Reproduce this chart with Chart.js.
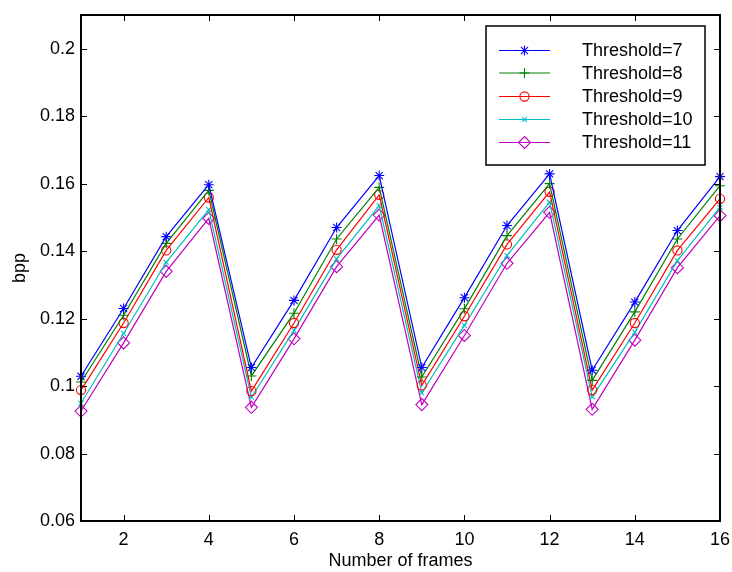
<!DOCTYPE html>
<html>
<head>
<meta charset="utf-8">
<script src="https://cdn.jsdelivr.net/npm/chart.js@4/dist/chart.umd.min.js"></script>
<style>
  html, body { margin: 0; padding: 0; background: #fff; }
</style>
</head>
<body>
<canvas id="bppChart" width="732" height="572"></canvas>
<script>
// frames on the x axis
const frames = [1, 2, 3, 4, 5, 6, 7, 8, 9, 10, 11, 12, 13, 14, 15, 16];

// bpp per frame, one array per threshold
const thr7  = [0.1029, 0.1230, 0.1443, 0.1597, 0.1055, 0.1254, 0.1470, 0.1624, 0.1055, 0.1262, 0.1476, 0.1629, 0.1047, 0.1249, 0.1461, 0.1621];
const thr8  = [0.1012, 0.1210, 0.1423, 0.1580, 0.1030, 0.1216, 0.1436, 0.1589, 0.1027, 0.1229, 0.1446, 0.1600, 0.1017, 0.1220, 0.1436, 0.1594];
const thr9  = [0.0988, 0.1187, 0.1402, 0.1559, 0.0985, 0.1187, 0.1404, 0.1567, 0.1002, 0.1207, 0.1420, 0.1576, 0.0988, 0.1187, 0.1402, 0.1555];
const thr10 = [0.0949, 0.1156, 0.1367, 0.1523, 0.0967, 0.1165, 0.1377, 0.1535, 0.0980, 0.1180, 0.1387, 0.1545, 0.0968, 0.1160, 0.1372, 0.1530];
const thr11 = [0.0926, 0.1128, 0.1340, 0.1497, 0.0937, 0.1140, 0.1354, 0.1507, 0.0945, 0.1150, 0.1364, 0.1515, 0.0931, 0.1136, 0.1351, 0.1505];

const seriesLabels = ['Threshold=7', 'Threshold=8', 'Threshold=9', 'Threshold=10', 'Threshold=11'];

// tick values
const xTicks = [2, 4, 6, 8, 10, 12, 14, 16];
const yTicks = [0.06, 0.08, 0.1, 0.12, 0.14, 0.16, 0.18, 0.2];

const FONT = '"Liberation Sans", Arial, Helvetica, sans-serif';

const styles = [
    { color: '#0000ff', pointStyle: 'star',     radius: 5 },
    { color: '#008000', pointStyle: 'cross',    radius: 5 },
    { color: '#ff0000', pointStyle: 'circle',   radius: 4.6 },
    { color: '#00bfbf', pointStyle: 'crossRot', radius: 3.5 },
    { color: '#bf00bf', pointStyle: 'rectRot',  radius: 6 }
];

const toPoints = arr => arr.map((v, i) => ({ x: frames[i], y: v }));

const datasets = [thr7, thr8, thr9, thr10, thr11].map((arr, i) => ({
    label: seriesLabels[i],
    data: toPoints(arr),
    borderColor: styles[i].color,
    backgroundColor: 'rgba(0,0,0,0)',
    pointBorderColor: styles[i].color,
    pointBackgroundColor: 'rgba(0,0,0,0)',
    pointStyle: styles[i].pointStyle,
    pointRadius: styles[i].radius,
    pointHoverRadius: styles[i].radius,
    pointBorderWidth: 1.1,
    borderWidth: 1.2,
    tension: 0,
    fill: false,
    clip: false
}));

// MATLAB-like box with inward ticks on all four sides
const boxPlugin = {
    id: 'boxTicks',
    afterDatasetsDraw(chart) {
        const { ctx, chartArea: a, scales } = chart;
        const len = 6;
        ctx.save();
        ctx.strokeStyle = '#000';
        ctx.lineWidth = 1;
        ctx.beginPath();
        xTicks.forEach(v => {
            const px = Math.round(scales.x.getPixelForValue(v)) + 0.5;
            ctx.moveTo(px, a.bottom); ctx.lineTo(px, a.bottom - len);
            ctx.moveTo(px, a.top); ctx.lineTo(px, a.top + len);
        });
        yTicks.forEach(v => {
            const py = Math.round(scales.y.getPixelForValue(v)) + 0.5;
            ctx.moveTo(a.left, py); ctx.lineTo(a.left + len, py);
            ctx.moveTo(a.right, py); ctx.lineTo(a.right - len, py);
        });
        ctx.stroke();
        ctx.lineWidth = 2;
        ctx.strokeRect(a.left, a.top, a.right - a.left, a.bottom - a.top);
        ctx.restore();
    }
};

// legend drawn as line + marker, like the original figure
const legendPlugin = {
    id: 'lineLegend',
    afterDraw(chart) {
        const { ctx } = chart;
        const box = { x: 486, y: 26, w: 219, h: 139 };
        const rowY = [50.5, 73, 96.5, 119.5, 142.5];
        ctx.save();
        ctx.fillStyle = '#fff';
        ctx.fillRect(box.x, box.y, box.w, box.h);
        ctx.strokeStyle = '#000';
        ctx.lineWidth = 1.5;
        ctx.strokeRect(box.x, box.y, box.w, box.h);
        chart.data.datasets.forEach((ds, i) => {
            const y = rowY[i];
            ctx.strokeStyle = ds.borderColor;
            ctx.lineWidth = 1.2;
            ctx.beginPath();
            ctx.moveTo(499, y);
            ctx.lineTo(550, y);
            ctx.stroke();
            ctx.fillStyle = 'rgba(0,0,0,0)';
            ctx.lineWidth = 1.1;
            Chart.helpers.drawPoint(ctx, {
                pointStyle: ds.pointStyle,
                radius: ds.pointRadius,
                rotation: 0,
                borderWidth: 1.1
            }, 524.5, y);
            ctx.fillStyle = '#000';
            ctx.font = '18px ' + FONT;
            ctx.textBaseline = 'middle';
            ctx.textAlign = 'left';
            ctx.fillText(ds.label, 582, y + 1);
        });
        ctx.restore();
    }
};

new Chart(document.getElementById('bppChart'), {
    type: 'line',
    data: { datasets },
    options: {
        responsive: false,
        animation: false,
        events: [],
        layout: { padding: { top: 15, right: 12, left: 0, bottom: 0 } },
        plugins: {
            legend: { display: false },
            tooltip: { enabled: false }
        },
        scales: {
            x: {
                type: 'linear',
                min: 1,
                max: 16,
                afterBuildTicks: s => { s.ticks = xTicks.map(v => ({ value: v })); },
                afterFit: s => { s.height = 51; s.paddingLeft = 0; s.paddingRight = 0; },
                grid: { display: false, drawTicks: false },
                border: { display: false },
                ticks: {
                    padding: 8,
                    color: '#000',
                    maxRotation: 0,
                    font: { family: FONT, size: 18 }
                },
                title: {
                    display: true,
                    text: 'Number of frames',
                    color: '#000',
                    font: { family: FONT, size: 18 },
                    padding: { top: 0, bottom: 0 }
                }
            },
            y: {
                type: 'linear',
                min: 0.06,
                max: 0.21,
                afterBuildTicks: s => { s.ticks = yTicks.map(v => ({ value: v })); },
                afterFit: s => { s.width = 81; s.paddingTop = 0; s.paddingBottom = 0; },
                grid: { display: false, drawTicks: false },
                border: { display: false },
                ticks: {
                    padding: 6,
                    color: '#000',
                    font: { family: FONT, size: 18 },
                    callback: v => String(+Number(v).toFixed(2))
                },
                title: {
                    display: true,
                    text: 'bpp',
                    color: '#000',
                    font: { family: FONT, size: 18 },
                    padding: { top: 9, bottom: 0 }
                }
            }
        }
    },
    plugins: [boxPlugin, legendPlugin]
});
</script>
</body>
</html>
